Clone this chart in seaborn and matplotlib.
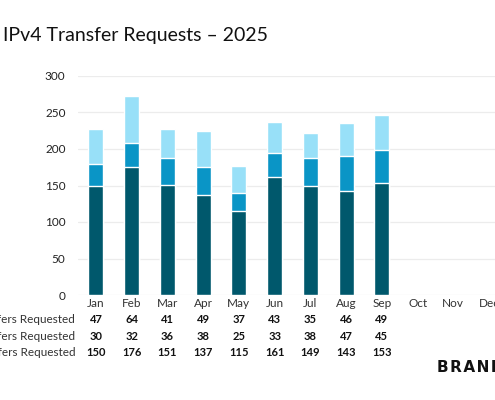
import pandas as pd
import matplotlib.pyplot as plt
import seaborn as sns

# Data
months = ['Jan', 'Feb', 'Mar', 'Apr', 'May', 'Jun', 'Jul', 'Aug', 'Sep', 'Oct', 'Nov', 'Dec']
market = [150, 176, 151, 137, 115, 161, 149, 143, 153]
mna = [30, 32, 36, 38, 25, 33, 38, 47, 45]
inter_rir = [47, 64, 41, 49, 37, 43, 35, 46, 49]
row_labels = ['Inter-RIR Transfers Requested', 'M&A Transfers Requested', 'Market Transfers Requested']

colors = ['#00586c', '#0a95c6', '#98e0f8']

n = len(market)
df = pd.DataFrame({
    'Month': months[:n],
    'Market': market,
    'M&A': mna,
    'Inter-RIR': inter_rir,
})
df['Low'] = df['Market']
df['Mid'] = df['Market'] + df['M&A']
df['Top'] = df['Mid'] + df['Inter-RIR']

sns.set_style('white')
plt.rcParams['font.family'] = ['Lato', 'DejaVu Sans']

fig = plt.figure(figsize=(4.95, 4.0), dpi=100)
ax = fig.add_axes([78 / 495, 105 / 400, 429 / 495, 219 / 400])

# stacked bars: draw cumulative totals back to front
for col, c in zip(['Top', 'Mid', 'Low'], [colors[2], colors[1], colors[0]]):
    sns.barplot(data=df, x='Month', y=col, order=months, color=c, width=0.42,
                saturation=1, ax=ax, zorder=3)

ax.set_xlim(-0.5, 11.5)
ax.set_ylim(0, 300)
ax.set_yticks(range(0, 301, 50))
ax.grid(axis='y', color='#ececec', linewidth=0.9, zorder=0)
ax.set_axisbelow(True)
for s in ax.spines.values():
    s.set_visible(False)
ax.set_xlabel('')
ax.set_ylabel('')
ax.tick_params(axis='y', length=0, pad=9, labelsize=8.5, labelcolor='#222222')
ax.tick_params(axis='x', length=0, pad=2, labelsize=8.5, labelcolor='#333333')

# table rows under the axis
trans = ax.get_xaxis_transform()
rows = [inter_rir, mna, market]
row_y = [-0.114, -0.188, -0.261]
for lab, vals, yy in zip(row_labels, rows, row_y):
    ax.text(-0.58, yy, lab, transform=trans, ha='right', va='center', fontsize=8.5,
            color='#333333', clip_on=False)
    for i, v in enumerate(vals):
        ax.text(i, yy, str(v), transform=trans, ha='center', va='center',
                fontsize=8, fontweight='bold', color='#111111', clip_on=False)

fig.text(3 / 495, 1 - 35 / 400, 'IPv4 Transfer Requests \u2013 2025', fontsize=14,
         ha='left', va='center', color='#111111')
fig.text(437 / 495, 1 - 367 / 400, '\u200a'.join('BRANDER'), fontsize=11, fontweight='black',
         ha='left', va='center', color='#111111', family=['DejaVu Sans'])

fig.savefig('out.png', dpi=100)
